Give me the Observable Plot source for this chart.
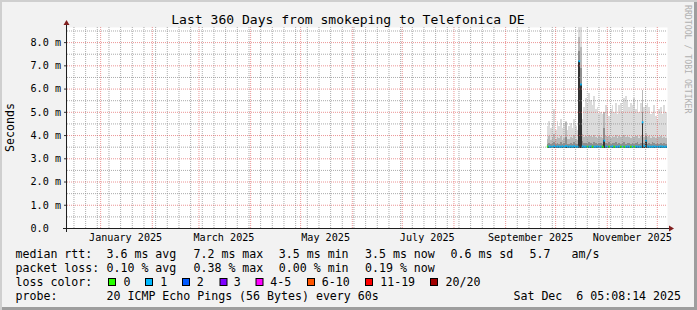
<!DOCTYPE html>
<html>
<head>
<meta charset="utf-8">
<script src="https://cdn.jsdelivr.net/npm/d3@7"></script>
<script src="https://cdn.jsdelivr.net/npm/@observablehq/plot@0.6"></script>
<style>
  html, body { margin: 0; padding: 0; background: #ffffff; }
  #chart { position: relative; width: 697px; height: 310px; background: #f2f2f2;
    box-shadow: inset 2px 2px 0 #cfcfcf, inset -3px -3px 0 #9e9e9e; overflow: hidden; }
  #chart svg { position: absolute; left: 0; top: 0; }
</style>
</head>
<body>
<div id="chart"></div>
<script>
// ---------------- data ----------------
const title = "Last 360 Days from smokeping to Telefonica DE";
const yLabel = "Seconds";
const watermark = "RRDTOOL / TOBI OETIKER";
const rangeStart = "2024-12-12T03:00:00Z";
const rangeEnd = "2025-12-07T03:00:00Z";
const firstDay = "2025-09-26T00:00:00Z";   // first daily sample shown

const yTicks = [0, 1, 2, 3, 4, 5, 6, 7, 8];
const yTickLabels = ["0.0", "1.0 m", "2.0 m", "3.0 m", "4.0 m", "5.0 m", "6.0 m", "7.0 m", "8.0 m"];
const yMinor = [0.5, 1.5, 2.5, 3.5, 4.5, 5.5, 6.5, 7.5, 8.5];
const yMax = 8.65;

const xLabelDates = ["2025-01-16", "2025-03-16", "2025-05-16", "2025-07-16", "2025-09-16", "2025-11-16"];
const xLabels = ["January 2025", "March 2025", "May 2025", "July 2025", "September 2025", "November 2025"];

// per-day values (ms), 72 days from firstDay
const minRtt = [
  3.45,3.45,3.44,3.45,3.45,3.45,3.44,3.45,3.45,3.45,
  3.45,3.45,3.45,3.44,3.45,3.45,3.45,3.45,3.45,3.46,
  3.46,3.45,3.45,3.45,3.44,3.45,3.45,3.45,3.45,3.45,
  3.45,3.44,3.45,3.45,3.45,3.45,3.45,3.45,3.44,3.45,
  3.45,3.45,3.45,3.45,3.45,3.44,3.45,3.45,3.45,3.45,
  3.45,3.45,3.44,3.45,3.45,3.45,3.45,3.46,3.45,3.45,
  3.45,3.45,3.45,3.44,3.45,3.45,3.45,3.45,3.45,3.44,
  3.45,3.45];
const medianRtt = [
  3.52,3.53,3.52,3.52,3.54,3.52,3.53,3.52,3.52,3.53,
  3.52,3.55,3.52,3.52,3.53,3.52,3.54,3.52,3.52,7.20,
  6.20,3.53,3.52,3.52,3.52,3.52,3.53,3.52,3.52,3.52,
  3.53,3.52,3.52,3.52,3.78,3.53,3.52,3.52,3.52,3.53,
  3.52,3.52,3.52,3.53,3.52,3.52,3.52,3.52,3.53,3.52,
  3.52,3.52,3.52,3.53,3.52,3.52,3.52,4.57,3.55,3.78,
  3.53,3.52,3.52,3.52,3.53,3.52,3.52,3.52,3.53,3.52,
  3.52,3.52];
const p60Rtt = [
  3.62,3.66,3.60,3.64,3.70,3.61,3.65,3.63,3.68,3.60,
  3.64,3.90,3.62,3.61,3.66,3.63,3.70,3.62,3.60,7.60,
  6.90,3.75,3.64,3.66,3.62,3.68,3.65,3.63,3.70,3.64,
  3.62,3.66,3.64,3.60,4.30,3.66,3.63,3.68,3.62,3.65,
  3.64,3.70,3.62,3.66,3.63,3.65,3.68,3.62,3.66,3.64,
  3.62,3.67,3.63,3.65,3.68,3.62,3.66,5.00,3.64,3.95,
  3.63,3.66,3.62,3.68,3.64,3.62,3.66,3.63,3.65,3.62,
  3.64,3.62];
const p80Rtt = [
  3.85,3.95,3.80,3.90,4.05,3.82,3.92,3.88,3.98,3.80,
  3.86,4.57,3.84,3.82,3.90,3.86,4.00,3.85,3.80,8.20,
  7.80,4.05,3.92,3.98,3.88,4.00,3.95,3.90,4.02,3.92,
  3.88,3.94,3.90,3.86,5.00,3.95,3.90,3.98,3.88,3.94,
  3.92,4.00,3.88,3.96,3.90,3.94,4.02,3.90,3.96,3.92,
  3.88,3.96,3.90,3.94,3.98,3.88,3.95,5.94,3.92,4.10,
  3.90,3.96,3.88,3.98,3.92,3.88,3.94,3.90,3.95,3.88,
  3.92,3.86];
const maxRtt = [
  4.40,4.60,4.30,4.50,5.10,4.20,4.60,4.40,4.70,4.30,
  4.50,4.60,4.20,4.40,4.50,4.30,4.70,4.40,4.20,8.65,
  8.65,4.70,5.20,5.60,5.40,5.80,5.50,5.30,5.70,5.10,
  5.20,4.90,5.00,4.90,5.00,5.30,5.20,4.80,5.10,5.30,
  5.00,5.40,4.90,5.30,5.40,5.00,5.60,5.70,5.50,5.20,
  5.40,5.30,5.60,5.10,5.50,5.00,5.40,5.95,5.20,5.30,
  5.40,5.20,4.90,5.00,5.30,4.80,4.70,5.10,5.20,4.90,
  5.30,5.00];
const lossClass = [
  0,1,1,1,1,1,1,1,1,1,
  1,1,1,1,1,1,1,1,1,1,
  1,1,1,1,0,1,1,0,1,1,
  1,1,1,0,1,1,1,0,1,1,
  0,1,1,1,0,1,0,1,1,1,
  0,1,0,1,1,1,1,1,1,1,
  1,1,1,1,1,1,1,1,1,1,
  1,1];

const lossKeys = ["0", "1", "2", "3", "4-5", "6-10", "11-19", "20/20"];
const lossColors = ["#26ff00", "#00b8ff", "#0059ff", "#7e00ff", "#ff00ff", "#ff5500", "#ff0000", "#a10000"];

const statLabels = ["median rtt:", "packet loss:", "loss color:", "probe:"];
const rttStats = ["3.6 ms avg", "7.2 ms max", "3.5 ms min", "3.5 ms now", "0.6 ms sd", "5.7", "am/s"];
const lossStats = ["0.10 % avg", "0.38 % max", "0.00 % min", "0.19 % now"];
const probeText = "20 ICMP Echo Pings (56 Bytes) every 60s";
const stampText = "Sat Dec  6 05:08:14 2025";

// ---------------- build ----------------
const t0 = new Date(firstDay);
const rows = medianRtt.map((m, i) => ({
  date: d3.utcDay.offset(t0, i),
  next: d3.utcDay.offset(t0, i + 1),
  min: minRtt[i], p60: p60Rtt[i], p80: p80Rtt[i], max: maxRtt[i],
  median: m, loss: lossClass[i]
}));
const xDomain = [new Date(rangeStart), new Date(rangeEnd)];
const majorX = d3.utcMonth.range(xDomain[0], xDomain[1]);
const minorX = d3.utcMonday.range(xDomain[0], xDomain[1]).filter(d => !majorX.some(m => +m === +d));
const labelDates = xLabelDates.map(s => new Date(s + "T00:00:00Z"));
const yMajor = yTicks.filter(v => v > 0);

const font = "DejaVu Sans Mono";
const gridStyle = {stroke: "#8f8f8f", strokeOpacity: 0.75, strokeDasharray: "1,1"};
const mgridStyle = {stroke: "#de4f4f", strokeOpacity: 0.6, strokeDasharray: "1,1"};

const chart = Plot.plot({
  width: 697, height: 310,
  marginLeft: 67, marginRight: 30, marginTop: 27, marginBottom: 82,
  style: {background: "transparent", fontFamily: font, fontSize: "10.15px", color: "#000", overflow: "visible"},
  x: {type: "utc", domain: xDomain, label: null},
  y: {domain: [0, yMax], label: null},
  color: {type: "ordinal", domain: d3.range(lossColors.length), range: lossColors},
  marks: [
    Plot.frame({fill: "#ffffff", stroke: "none"}),
    Plot.rect(rows, {x1: "date", x2: "next", y1: "min", y2: "max", fill: "#dcdcdc", shapeRendering: "crispEdges"}),
    Plot.rect(rows, {x1: "date", x2: "next", y1: "min", y2: "p80", fill: "#b9b9b9", shapeRendering: "crispEdges"}),
    Plot.rect(rows, {x1: "date", x2: "next", y1: "min", y2: "p60", fill: "#8e8e8e", shapeRendering: "crispEdges"}),
    Plot.rect(rows, {x1: "date", x2: "next", y1: "min", y2: "median", fill: "#333333", shapeRendering: "crispEdges"}),
    Plot.ruleY(rows, {x1: "date", x2: "next", y: "median", stroke: "loss", strokeWidth: 2}),
    Plot.ruleY(yMinor, gridStyle),
    Plot.ruleX(minorX, gridStyle),
    Plot.ruleY(yMajor, mgridStyle),
    Plot.ruleX(majorX, mgridStyle),
    Plot.axisY(yTicks, {tickSize: 3, tickPadding: 34, textAnchor: "start", stroke: "#333",
      tickFormat: d => yTickLabels[yTicks.indexOf(d)], label: null}),
    Plot.axisX(labelDates, {tickSize: 0, tickPadding: 5.5,
      tickFormat: d => xLabels[labelDates.findIndex(t => +t === +d)], label: null})
  ]
});

document.getElementById("chart").appendChild(chart);

// ---------------- decorations (axes, arrows, texts) ----------------
const svg = d3.select(chart);
const [xa, xb] = chart.scale("x").range;
const [yb, ya] = chart.scale("y").range; // yb bottom, ya top
const axisCol = "#1f1f1f", arrowCol = "#801f1f";

svg.append("line").attr("x1", xa - 4).attr("x2", xb + 4).attr("y1", yb + 0.5).attr("y2", yb + 0.5)
  .attr("stroke", axisCol).attr("stroke-width", 1);
svg.append("line").attr("x1", xa - 0.5).attr("x2", xa - 0.5).attr("y1", yb + 4).attr("y2", ya - 4)
  .attr("stroke", axisCol).attr("stroke-width", 1);
svg.append("polygon").attr("fill", arrowCol)
  .attr("points", `${xb + 2},${yb + 0.5 - 3} ${xb + 2},${yb + 0.5 + 3} ${xb + 7},${yb + 0.5}`);
svg.append("polygon").attr("fill", arrowCol)
  .attr("points", `${xa - 0.5 - 3},${ya - 2} ${xa - 0.5 + 3},${ya - 2} ${xa - 0.5},${ya - 7}`);

const txt = (x, y, s, size, opts = {}) => {
  const t = svg.append("text").attr("x", x).attr("y", y).text(s)
    .attr("font-family", font).attr("font-size", size).attr("fill", opts.fill || "#000")
    .attr("text-anchor", opts.anchor || "start").style("white-space", "pre").attr("xml:space", "preserve");
  if (opts.transform) t.attr("transform", opts.transform);
  return t;
};

txt(348, 24, title, 13.05, {anchor: "middle"});
txt(0, 0, yLabel, 11.6, {anchor: "middle", transform: "translate(13.5,127.5) rotate(-90)"});
txt(0, 0, watermark, 8.2, {fill: "#b0b0b0", transform: "translate(684.5,5) rotate(90)"});

const L = 11.6;
const rowY = [258, 272, 286, 300];
statLabels.forEach((s, i) => txt(15.5, rowY[i], s, L));
const rttX = [106.5, 193.5, 278.8, 365, 450.5, 529.5, 571.5];
rttStats.forEach((s, i) => txt(rttX[i], rowY[0], s, L));
const lossX = [106.5, 193.5, 278.8, 365];
lossStats.forEach((s, i) => txt(lossX[i], rowY[1], s, L));
const boxX = [108.5, 145.5, 182.5, 220, 256, 307.5, 365.5, 430.5];
const keyX = [123.5, 160.2, 196.8, 233.8, 270.2, 321.8, 380.2, 445.5];
lossKeys.forEach((k, i) => {
  svg.append("rect").attr("x", boxX[i]).attr("y", 278.5).attr("width", 7).attr("height", 7)
    .attr("fill", lossColors[i]).attr("stroke", "#000").attr("stroke-width", 1);
  txt(keyX[i], rowY[2], k, L);
});
txt(106.5, rowY[3], probeText, L);
txt(681, rowY[3], stampText, L, {anchor: "end"});
</script>
</body>
</html>
